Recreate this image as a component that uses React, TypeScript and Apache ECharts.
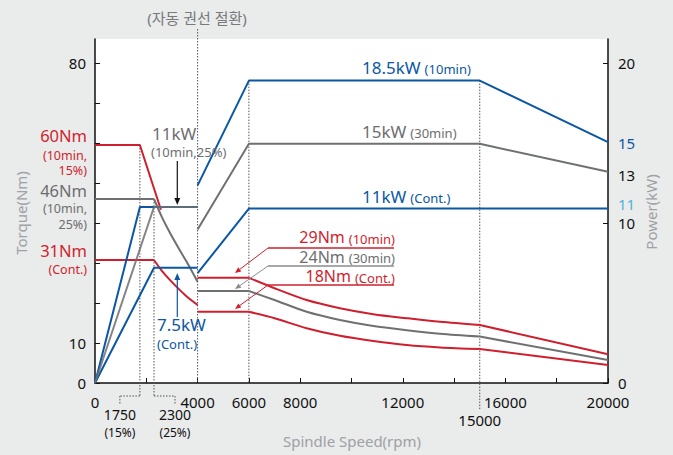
import React, { useEffect, useRef } from "react";
import * as echarts from "echarts";

// ---- Data ----
// Speeds in rpm; torque in Nm (left axis); power in kW (right axis)
const speedTicks = [0, 2000, 4000, 6000, 8000, 10000, 12000, 14000, 16000, 18000, 20000];
const speedLabels = [0, 4000, 6000, 8000, 12000, 16000, 20000];
const torqueTicks = [0, 10, 20, 30, 40, 50, 60, 70, 80];
const torqueLabels = [0, 10, 80];
const powerTicks = [0, 10, 20];
const powerLabels = [0, 10, 13, 15, 20];
const powerExtraLabel = 11;

// Low-speed winding (0–4000 rpm)
const t60Low = [[0, 59.5], [1750, 59.5], [2570, 43.3]];
const t46Low = [[0, 46], [2300, 46], [2600, 41.6], [2900, 37.8], [3250, 33.8], [3600, 30], [4000, 25.3]];
const t31Low = [[0, 30.75], [2300, 30.75], [2600, 28.1], [2900, 25.9], [3250, 23.6], [3600, 21.5], [4000, 19.5]];
const p11Low15 = [[0, 0], [1750, 11], [4000, 11]];
const p11Low25 = [[0, 0], [2300, 11], [4000, 11]];
const p75Low = [[0, 0], [2300, 7.2], [4000, 7.2]];

// High-speed winding (4000–20000 rpm)
const t29High = [[4000, 26.3], [6000, 26.3], [7000, 23.7], [8250, 20.75], [9550, 18.7], [10850, 17.2], [12150, 16.2], [13450, 15.3], [15000, 14.5], [20000, 7.2]];
const t24High = [[4000, 23], [6000, 23], [7000, 20.75], [8250, 17.8], [9550, 15.75], [10850, 14.25], [12150, 13.2], [13450, 12.3], [15000, 11.6], [20000, 5.75]];
const t18High = [[4000, 17.8], [6000, 17.8], [7000, 16.2], [8250, 13.7], [9550, 11.8], [10850, 10.5], [12150, 9.5], [13450, 8.9], [15000, 8.5], [20000, 4.5]];
const p185High = [[4000, 12.35], [6000, 18.9], [15000, 18.9], [20000, 15.05]];
const p15High = [[4000, 9.6], [6000, 14.95], [15000, 14.95], [20000, 13.2]];
const p11High = [[4000, 6.86], [6000, 10.9], [20000, 10.9]];

// Reference speeds marked by dotted lines
const baseSpeed15 = 1750;
const baseSpeed25 = 2300;
const switchSpeed = 4000;
const highBase = 6000;
const highKnee = 15000;

const RED = "#cf1f2e";
const BLUE = "#0b57a4";
const GRAY = "#6f7072";
const TXTGRAY = "#6d6e70";
const NAMEGRAY = "#9ea1a5";
const FONT = "'Noto Sans', 'Noto Sans CJK KR', sans-serif";

let ctx: CanvasRenderingContext2D | null = null;
function measure(t: string, size: number) {
  if (!ctx) ctx = document.createElement("canvas").getContext("2d");
  if (!ctx) return t.length * size * 0.55;
  ctx.font = `${size}px 'Noto Sans'`;
  return ctx.measureText(t).width;
}

function line(data: number[][], color: string, yAxisIndex: number, extra: any = {}) {
  return {
    type: "line",
    data,
    yAxisIndex,
    symbol: "none",
    smooth: extra.smooth ?? false,
    lineStyle: { color, width: 2, ...(extra.lineStyle || {}) },
    z: extra.z ?? 3,
    silent: true,
  };
}

// torque curve = flat part, smooth falling part, straight tail
function highTorque(data: number[][], color: string) {
  return [
    line(data.slice(0, 2), color, 0),
    line(data.slice(1, data.length - 1), color, 0, { smooth: 0.3 }),
    line(data.slice(data.length - 2), color, 0),
  ];
}
function lowTorque(data: number[][], color: string) {
  return [line(data.slice(0, 2), color, 0), line(data.slice(1), color, 0, { smooth: 0.3 })];
}

function arrow(x1: number, y1: number, x2: number, y2: number, color: string, head = 7, width = 1.2) {
  const a = Math.atan2(y2 - y1, x2 - x1);
  const bx = x2 - head * Math.cos(a);
  const by = y2 - head * Math.sin(a);
  const w = head * 0.42;
  return [
    { type: "line", z: 20, shape: { x1, y1, x2: bx, y2: by }, style: { stroke: color, lineWidth: width } },
    {
      type: "polygon",
      z: 20,
      shape: { points: [[x2, y2], [bx + w * Math.sin(a), by - w * Math.cos(a)], [bx - w * Math.sin(a), by + w * Math.cos(a)]] },
      style: { fill: color },
    },
  ];
}

function txt(x: number, y: number, text: string, fill: string, size: number, align = "left", extra: any = {}) {
  return {
    type: "text",
    z: 20,
    x,
    y,
    style: { text, fill, fontSize: size, fontFamily: FONT, align, verticalAlign: "middle", ...extra },
  };
}

function pairTxt(x: number, y: number, big: string, small: string, fill: string, align = "left", bigSize = 17) {
  const wb = measure(big, bigSize);
  const ws = measure(small, 13);
  const gap = 4;
  const left = align === "left" ? x : x - (wb + gap + ws);
  return [txt(left, y, big, fill, bigSize, "left"), txt(left + wb + gap, y + 1.5, small, fill, 13, "left")];
}

export default function App() {
  const ref = useRef<HTMLDivElement>(null);
  useEffect(() => {
    if (!ref.current) return;
    const chart = echarts.init(ref.current, undefined, { renderer: "svg" });
    const option: any = {
      animation: false,
      backgroundColor: "#eaebeb",
      textStyle: { fontFamily: FONT },
      grid: { left: 95, right: 65, top: 39, bottom: 72, show: true, backgroundColor: "#ffffff", borderWidth: 0 },
      xAxis: {
        type: "value",
        min: 0,
        max: 20000,
        interval: 2000,
        axisLine: { show: true, lineStyle: { color: "#111", width: 1.5 } },
        axisTick: { show: true, inside: true, length: 5, customValues: speedTicks, lineStyle: { color: "#111" } },
        axisLabel: {
          customValues: speedLabels,
          color: "#111",
          fontSize: 15,
          margin: 11,
          fontFamily: FONT,
          formatter: (v: number) => String(v),
        },
        splitLine: { show: false },
      },
      yAxis: [
        {
          type: "value",
          min: 0,
          max: 86,
          interval: 10,
          position: "left",
          axisLine: { show: true, onZero: false, lineStyle: { color: "#111", width: 1.5 } },
          axisTick: { show: true, inside: true, length: 5, customValues: torqueTicks, lineStyle: { color: "#111" } },
          axisLabel: { customValues: torqueLabels, color: "#111", fontSize: 15, margin: 9, fontFamily: FONT },
          splitLine: { show: false },
        },
        {
          type: "value",
          min: 0,
          max: 21.5,
          interval: 10,
          position: "right",
          axisLine: { show: true, onZero: false, lineStyle: { color: "#111", width: 1.5 } },
          axisTick: { show: true, inside: true, length: 5, customValues: powerTicks, lineStyle: { color: "#111" } },
          axisLabel: {
            customValues: powerLabels,
            color: "#111",
            fontSize: 15,
            margin: 10,
            fontFamily: FONT,
            formatter: (v: number) => (v === 15 ? "{b|15}" : String(v)),
            rich: { b: { color: BLUE, fontSize: 15, fontFamily: FONT } },
          },
          splitLine: { show: false },
        },
      ],
      series: [
        ...lowTorque(t46Low, GRAY),
        line(t60Low, RED, 0),
        ...lowTorque(t31Low, RED),
        line(p11Low15, BLUE, 1),
        line(p11Low25, GRAY, 1, { lineStyle: { opacity: 0.85 }, z: 4 }),
        line(p75Low, BLUE, 1),
        ...highTorque(t29High, RED),
        ...highTorque(t24High, GRAY),
        ...highTorque(t18High, RED),
        line(p185High, BLUE, 1),
        line(p15High, GRAY, 1),
        line(p11High, BLUE, 1),
      ],
    };
    chart.setOption(option);

    const xp = (v: number) => chart.convertToPixel({ xAxisIndex: 0 } as any, v) as number;
    const yT = (v: number) => chart.convertToPixel({ yAxisIndex: 0 } as any, v) as number;
    const yP = (v: number) => chart.convertToPixel({ yAxisIndex: 1 } as any, v) as number;
    const y0 = yT(0);
    const xR = xp(20000);
    const dotStyle = { stroke: "#555", lineWidth: 1, lineDash: [1.5, 1.5] };
    const dl = (x1: number, y1: number, x2: number, y2: number) => ({
      type: "line",
      z: 1,
      shape: { x1, y1, x2, y2 },
      style: dotStyle,
    });

    const x1750 = xp(baseSpeed15);
    const x2300 = xp(baseSpeed25);
    const x4000 = xp(switchSpeed);
    const x6000 = xp(highBase);
    const x15000 = xp(highKnee);
    const bY = y0 + 13;
    const bY2 = y0 + 22;

    const g: any[] = [
      dl(x1750, yT(t60Low[1][1]), x1750, bY),
      dl(x1750, bY, x1750 - 20, bY),
      dl(x1750 - 20, bY, x1750 - 20, bY2),
      dl(x2300, yT(t46Low[1][1]), x2300, bY),
      dl(x2300, bY, x2300 + 21, bY),
      dl(x2300 + 21, bY, x2300 + 21, bY2),
      dl(x4000, 29, x4000, y0),
      dl(x6000, yP(p185High[1][1]), x6000, y0),
      dl(x15000, yP(p185High[2][1]), x15000, y0 + 27),
      txt(x1750 - 20, y0 + 31, String(baseSpeed15), "#111", 14, "center"),
      txt(x1750 - 20, y0 + 49, "(15%)", "#111", 12, "center"),
      txt(x2300 + 21, y0 + 31, String(baseSpeed25), "#111", 14, "center"),
      txt(x2300 + 21, y0 + 49, "(25%)", "#111", 12, "center"),
      txt(x15000, y0 + 37, String(highKnee), "#111", 15, "center"),
      txt(xR + 10, yP(powerExtraLabel) - 3, String(powerExtraLabel), "#4fb4d6", 15, "left"),
      // title & axis names
      txt(197, 18, "(자동 권선 절환)", "#77797c", 15, "center"),
      txt(352, 441, "Spindle Speed(rpm)", NAMEGRAY, 15, "center"),
      { ...txt(21, 213, "Torque(Nm)", NAMEGRAY, 15, "center"), rotation: Math.PI / 2 },
      { ...txt(651, 212, "Power(kW)", NAMEGRAY, 15, "center"), rotation: Math.PI / 2 },
      // left side labels
      txt(87, 135, "60Nm", RED, 16.5, "right"),
      txt(87, 155.5, "(10min,", RED, 12.5, "right"),
      txt(87, 170.5, "15%)", RED, 12.5, "right"),
      txt(87, 190, "46Nm", TXTGRAY, 16.5, "right"),
      txt(87, 208.5, "(10min,", TXTGRAY, 12.5, "right"),
      txt(87, 224, "25%)", TXTGRAY, 12.5, "right"),
      txt(87, 250.5, "31Nm", RED, 16.5, "right"),
      txt(87, 269, "(Cont.)", RED, 12.5, "right"),
      // low-winding notes
      txt(152, 133, "11kW", TXTGRAY, 17, "left"),
      txt(151, 152, "(10min,25%)", TXTGRAY, 13, "left"),
      ...arrow(177.3, 161, 177.3, 205, "#111"),
      txt(157, 324, "7.5kW", BLUE, 17, "left"),
      txt(157, 344, "(Cont.)", BLUE, 13, "left"),
      ...arrow(177.3, 317, 177.3, 273, BLUE),
      // high-winding power notes
      ...pairTxt(362, 67, "18.5kW", "(10min)", BLUE),
      ...pairTxt(362, 131, "15kW", "(30min)", TXTGRAY),
      ...pairTxt(362, 196, "11kW", "(Cont.)", BLUE),
      // high-winding torque notes
      ...pairTxt(395, 237, "29Nm", "(10min)", RED, "right", 16),
      ...pairTxt(395, 256.5, "24Nm", "(30min)", TXTGRAY, "right", 16),
      ...pairTxt(395, 276, "18Nm", "(Cont.)", RED, "right", 16),
      { type: "line", z: 20, shape: { x1: 268, y1: 248, x2: 394, y2: 248 }, style: { stroke: RED, lineWidth: 1.3 } },
      ...arrow(268, 248, 235, 273, RED, 6, 1),
      { type: "line", z: 20, shape: { x1: 268, y1: 266, x2: 394, y2: 266 }, style: { stroke: "#8a8b8d", lineWidth: 1.3 } },
      ...arrow(268, 266, 235, 289, "#8a8b8d", 6, 1),
      { type: "line", z: 20, shape: { x1: 268, y1: 285, x2: 394, y2: 285 }, style: { stroke: RED, lineWidth: 1.3 } },
      ...arrow(268, 285, 235, 309, RED, 6, 1),
    ];
    chart.setOption({ graphic: { elements: g } });
    return () => chart.dispose();
  }, []);
  return <div ref={ref} style={{ position: "absolute", left: 0, top: 0, width: 673, height: 455 }} />;
}
